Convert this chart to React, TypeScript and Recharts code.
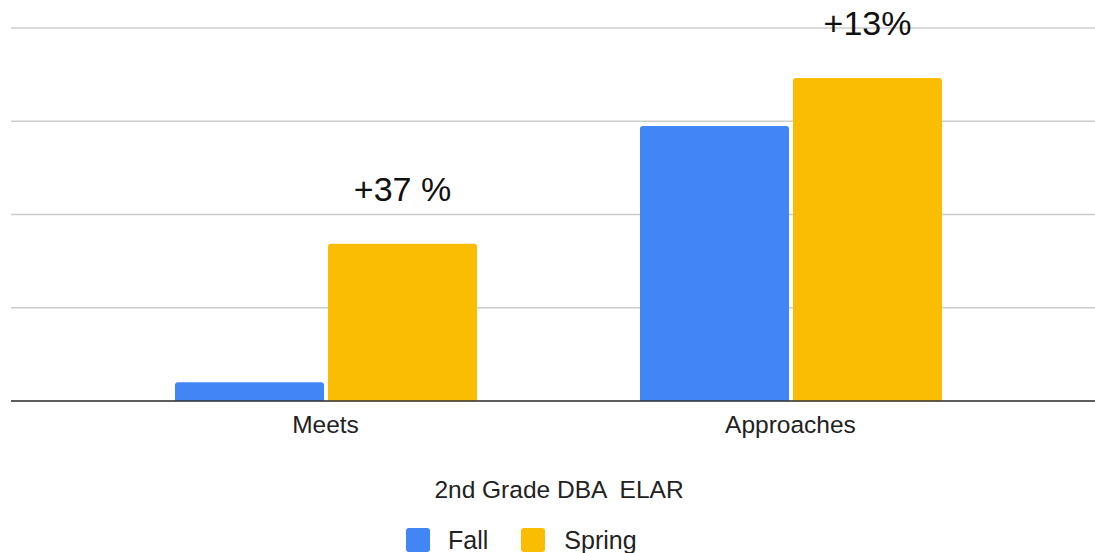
import React from "react";
import { BarChart, Bar, XAxis, YAxis, CartesianGrid, LabelList, Legend } from "recharts";

const categories = ["Meets", "Approaches"];
const fallValues = [4, 59];
const springValues = [33.7, 69.3];
const changeLabels = ["+37 %", "+13%"];
const yTicks = [0, 20, 40, 60, 80];
const chartTitle = "2nd Grade DBA  ELAR";

const data = categories.map((c, i) => ({
  name: c,
  Fall: fallValues[i],
  Spring: springValues[i],
  change: changeLabels[i],
}));

const FONT = "'Liberation Sans', Arial, sans-serif";

const LegendContent = () => (
  <div style={{ width: 1084, height: 90, position: "relative", fontFamily: FONT, color: "#222" }}>
    <div style={{ position: "absolute", top: 13, left: 0, width: 1096, textAlign: "center", fontSize: 24.5, lineHeight: "28px", whiteSpace: "pre" }}>
      {chartTitle}
    </div>
    <div style={{ position: "absolute", top: 63, left: 395, display: "flex", alignItems: "center", fontSize: 25, lineHeight: "28px", whiteSpace: "nowrap" }}>
      <span style={{ display: "inline-block", width: 24, height: 24, borderRadius: 3, background: "#4285F4", marginRight: 18 }} />
      <span style={{ marginRight: 33 }}>Fall</span>
      <span style={{ display: "inline-block", width: 24, height: 24, borderRadius: 3, background: "#FBBC04", marginRight: 19 }} />
      <span>Spring</span>
    </div>
  </div>
);

export default function App() {
  return (
    <div style={{ position: "absolute", left: 0, top: 0, width: 1095, height: 553, background: "#fff" }}>
      <BarChart
        width={1095}
        height={553}
        data={data}
        margin={{ top: 28, right: 0, left: 11, bottom: 0 }}
        barCategoryGap={82}
        barGap={4}
      >
        <CartesianGrid vertical={false} stroke="#cccccc" strokeWidth={1.5} />
        <YAxis hide domain={[0, 80]} ticks={yTicks} />
        <XAxis
          dataKey="name"
          padding={{ left: 82, right: 72 }}
          axisLine={{ stroke: "#333", strokeWidth: 1.5 }}
          tickLine={false}
          tickMargin={9}
          height={62}
          tick={{ fill: "#222", fontSize: 24.5, fontFamily: FONT }}
          interval={0}
        />
        <Legend verticalAlign="bottom" content={<LegendContent />} />
        <Bar dataKey="Fall" fill="#4285F4" radius={[3, 3, 0, 0]} isAnimationActive={false} />
        <Bar dataKey="Spring" fill="#FBBC04" radius={[3, 3, 0, 0]} isAnimationActive={false}>
          <LabelList dataKey="change" position="top" offset={43} fill="#111" fontSize={34} fontFamily={FONT} />
        </Bar>
      </BarChart>
    </div>
  );
}
